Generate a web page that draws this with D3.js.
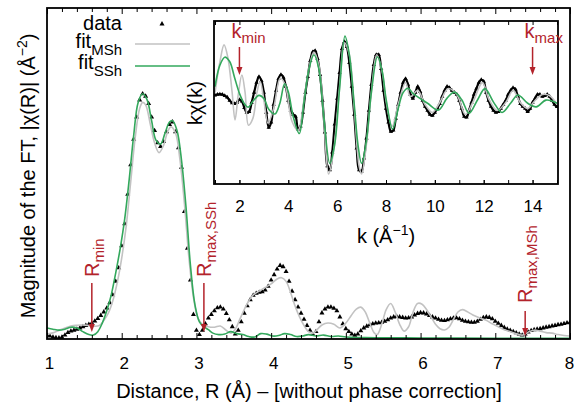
<!DOCTYPE html>
<html><head><meta charset="utf-8">
<script src="https://cdn.jsdelivr.net/npm/d3@7"></script>
<style>body{margin:0;background:#fff}svg{display:block}text{font-family:"Liberation Sans",Arial,Helvetica,sans-serif}</style>
</head><body><svg id="c" width="574" height="403"></svg>
<script>
// ---------- DATA ----------
// main panel: |chi(R)| data on a uniform R grid
const R0 = 1.0, dR = 0.04;
const dataFT = [
 0.016,0.012,0.008,0.005,0.004,0.007,0.016,0.026,0.032,0.036,
 0.040,0.045,0.050,0.055,0.060,0.065,0.073,0.083,0.096,0.110,
 0.126,0.148,0.180,0.235,0.290,0.380,0.470,0.590,0.710,0.815,
 0.905,0.975,1.000,0.990,0.960,0.905,0.850,0.800,0.785,0.805,
 0.845,0.875,0.885,0.845,0.780,0.700,0.520,0.370,0.240,0.100,
 0.035,0.018,0.035,0.062,0.085,0.100,0.115,0.127,0.130,0.122,
 0.104,0.078,0.050,0.020,0.035,0.070,0.105,0.135,0.160,0.178,
 0.186,0.190,0.193,0.200,0.215,0.240,0.262,0.285,0.300,0.295,
 0.275,0.235,0.195,0.160,0.130,0.105,0.080,0.055,0.035,0.018,
 0.030,0.070,0.106,0.122,0.130,0.130,0.125,0.115,0.090,0.062,
 0.042,0.030,0.020,0.015,0.020,0.033,0.045,0.052,0.058,0.062,
 0.065,0.066,0.068,0.072,0.078,0.085,0.090,0.092,0.090,0.088,
 0.085,0.086,0.090,0.098,0.104,0.107,0.106,0.102,0.096,0.090,
 0.085,0.080,0.076,0.075,0.078,0.082,0.085,0.086,0.082,0.076,
 0.072,0.070,0.068,0.068,0.072,0.080,0.087,0.090,0.088,0.082,
 0.072,0.064,0.055,0.047,0.040,0.035,0.030,0.025,0.020,0.016,
 0.020,0.028,0.034,0.038,0.040,0.042,0.045,0.048,0.050,0.053,
 0.055,0.058,0.060,0.063,0.066,0.068
];
const fitMShR = [1.00,1.08,1.16,1.24,1.32,1.40,1.48,1.56,1.64,1.70,1.76,1.82,1.88,1.94,2.00,2.06,2.12,2.18,2.24,2.28,2.32,2.38,2.44,2.50,2.56,2.62,2.66,2.72,2.78,2.84,2.90,2.96,3.02,3.08,3.16,3.24,3.32,3.40,3.46,3.52,3.58,3.64,3.70,3.76,3.84,3.92,4.00,4.08,4.14,4.20,4.26,4.32,4.38,4.44,4.50,4.56,4.62,4.68,4.76,4.84,4.92,5.00,5.07,5.14,5.20,5.26,5.32,5.38,5.42,5.48,5.54,5.60,5.66,5.72,5.78,5.84,5.90,5.96,6.02,6.08,6.14,6.20,6.26,6.32,6.38,6.44,6.50,6.56,6.62,6.70,6.80,6.88,6.96,7.04,7.12,7.20,7.30,7.37,7.44,7.52,7.60,7.68,7.76,7.84,7.92,8.00];
const fitMShV = [0.020,0.025,0.035,0.045,0.053,0.056,0.057,0.055,0.052,0.055,0.075,0.105,0.155,0.230,0.330,0.460,0.640,0.820,0.940,0.965,0.955,0.880,0.800,0.760,0.790,0.850,0.865,0.840,0.730,0.550,0.330,0.170,0.085,0.060,0.050,0.048,0.053,0.035,0.024,0.040,0.080,0.120,0.155,0.180,0.195,0.210,0.225,0.245,0.250,0.235,0.190,0.135,0.090,0.055,0.030,0.024,0.040,0.057,0.065,0.060,0.045,0.065,0.095,0.122,0.130,0.110,0.065,0.025,0.018,0.060,0.120,0.145,0.110,0.060,0.032,0.050,0.110,0.145,0.142,0.120,0.090,0.060,0.042,0.037,0.048,0.080,0.110,0.120,0.112,0.098,0.085,0.076,0.062,0.050,0.038,0.030,0.020,0.016,0.028,0.036,0.032,0.026,0.024,0.018,0.014,0.012];
const fitSShR = [1.00,1.08,1.16,1.24,1.32,1.40,1.48,1.56,1.62,1.68,1.74,1.80,1.86,1.92,1.98,2.04,2.10,2.16,2.22,2.28,2.34,2.40,2.46,2.52,2.58,2.64,2.68,2.74,2.80,2.86,2.92,2.98,3.04,3.10,3.16,3.22,3.30,3.38,3.46,3.54,3.62,3.70,3.78,3.86,3.94,4.02,4.10,4.18,4.26,4.34,4.42,4.50,4.60,4.70,4.80,4.90,5.00,5.20,5.40,5.70,6.00,6.50,7.00,7.50,8.00];
const fitSShV = [0.045,0.040,0.036,0.040,0.048,0.045,0.030,0.018,0.016,0.030,0.065,0.115,0.180,0.270,0.370,0.490,0.650,0.830,0.965,1.000,0.975,0.890,0.810,0.795,0.840,0.885,0.890,0.850,0.730,0.540,0.300,0.140,0.070,0.050,0.038,0.024,0.018,0.020,0.030,0.022,0.018,0.010,0.008,0.022,0.020,0.012,0.014,0.022,0.018,0.010,0.012,0.018,0.012,0.016,0.010,0.012,0.008,0.006,0.005,0.005,0.004,0.004,0.003,0.003,0.003];

// inset: k*chi(k)
const k0 = 1.0, dk = 0.1;
const dataK = [
 0.03,0.05,0.06,0.05,0.02,-0.02,-0.10,-0.16,-0.18,-0.15,
 -0.08,-0.12,-0.28,-0.40,-0.38,-0.15,0.10,0.35,0.50,0.40,
 0.10,-0.40,-0.78,-0.65,-0.20,0.15,0.45,0.55,0.48,0.25,
 -0.10,-0.35,-0.45,-0.50,-0.82,-0.75,-0.40,0.10,0.50,0.90,
 1.12,1.15,0.95,0.55,-0.10,-0.90,-1.75,-1.85,-1.40,-0.70,
 -0.05,0.60,1.20,1.38,1.25,0.85,0.25,-0.45,-1.30,-1.85,
 -1.88,-1.55,-1.05,-0.35,0.30,0.80,1.05,1.05,0.70,0.15,
 -0.30,-0.65,-0.88,-0.85,-0.55,-0.20,0.10,0.35,0.45,0.30,
 0.05,-0.05,0.10,0.25,0.12,-0.10,-0.25,-0.35,-0.45,-0.48,
 -0.40,-0.30,-0.18,0.00,0.15,0.25,0.22,0.15,0.10,0.05,
 -0.10,-0.30,-0.50,-0.52,-0.35,-0.15,0.05,0.20,0.35,0.42,
 0.38,0.10,-0.10,-0.25,-0.35,-0.40,-0.38,-0.30,-0.20,-0.10,
 0.05,0.15,0.22,0.18,0.00,-0.18,-0.25,-0.30,-0.38,-0.30,
 -0.15,-0.05,0.05,0.05,0.00,0.02,0.05,0.00,-0.10,-0.20,
 -0.26
];
const fitMShK = [1.0,1.2,1.37,1.53,1.7,1.82,1.95,2.1,2.23,2.37,2.55,2.72,2.85,3.0,3.17,3.4,3.67,3.87,4.15,4.4,4.65,4.85,5.05,5.25,5.45,5.65,5.85,6.1,6.3,6.5,6.7,6.9,7.0,7.2,7.4,7.62,7.85,8.0,8.25,8.5,8.8,9.0,9.3,9.6,9.9,10.2,10.55,10.9,11.25,11.55,11.95,12.2,12.55,12.9,13.2,13.5,13.8,14.1,14.4,14.7,15.0];
const fitMShKV = [0.10,0.87,1.30,0.97,0.11,-0.59,0.04,0.54,0.11,-0.72,-0.55,0.11,0.38,-0.09,-0.67,-0.30,0.46,0.30,-0.62,-0.85,-0.05,0.72,1.12,0.78,-0.50,-1.95,-1.40,0.25,1.35,1.05,-0.30,-1.75,-1.95,-1.20,0.10,1.05,0.60,-0.10,-0.75,-0.20,0.35,0.00,0.15,-0.20,-0.40,-0.15,0.20,0.05,-0.45,-0.15,0.35,-0.05,-0.35,-0.15,0.15,-0.15,-0.30,-0.10,0.05,0.02,-0.20];
const fitSShK = [1.0,1.2,1.4,1.6,1.8,2.0,2.2,2.35,2.55,2.8,3.0,3.2,3.45,3.65,3.85,4.0,4.2,4.45,4.65,4.85,5.05,5.25,5.45,5.7,5.9,6.1,6.32,6.5,6.7,6.85,7.0,7.2,7.4,7.65,7.85,8.0,8.27,8.5,8.7,8.9,9.1,9.3,9.7,10.15,10.5,10.8,11.1,11.4,11.75,12.05,12.4,12.75,13.1,13.4,13.8,14.15,14.55,15.0];
const fitSShKV = [0.25,0.79,0.99,0.88,0.48,0.08,-0.18,-0.27,-0.12,0.03,-0.05,-0.32,-0.44,-0.18,0.32,0.12,-0.50,-0.93,-0.10,0.70,1.05,0.70,-0.50,-1.68,-1.20,0.20,1.52,1.05,-0.20,-1.20,-1.68,-1.10,0.10,1.00,0.62,-0.05,-0.82,-0.30,0.10,0.21,0.08,-0.01,-0.17,-0.34,-0.04,0.11,-0.08,-0.42,-0.08,0.20,-0.14,-0.40,-0.17,0.04,-0.17,-0.26,-0.09,-0.17];

const xTickLabels = [1,2,3,4,5,6,7,8];
const kTickLabels = [2,4,6,8,10,12,14];
const rMarks = [{r:1.6, sub:"min"},{r:3.1, sub:"max,SSh"},{r:7.4, sub:"max,MSh"}];
const kMarks = [{k:2, sub:"min"},{k:14, sub:"max"}];

// ---------- DRAW ----------
const svg = d3.select("#c");
const RED = "#b3232b", GREEN = "#33a85c", GRAY = "#c2c2c2";
const F = {l:47, r:570, t:8, b:339};
const x = d3.scaleLinear().domain([1,8]).range([F.l,F.r]);
const y = d3.scaleLinear().domain([0,1.35]).range([F.b,F.t]);
const line = d3.line().curve(d3.curveCatmullRom.alpha(0.5));

svg.append("clipPath").attr("id","mc").append("rect")
  .attr("x",F.l).attr("y",F.t).attr("width",F.r-F.l).attr("height",F.b-F.t);
const gm = svg.append("g").attr("clip-path","url(#mc)");
const tri = d3.symbol(d3.symbolTriangle, 11)();
gm.selectAll("path.d").data(dataFT).join("path").attr("class","d")
  .attr("d",tri).attr("fill","#000")
  .attr("transform",(d,i)=>`translate(${x(R0+i*dR)},${y(d)})`);
gm.append("path").attr("d",line(fitMShR.map((r,i)=>[x(r),y(fitMShV[i])])))
  .attr("fill","none").attr("stroke",GRAY).attr("stroke-width",1.6);
gm.append("path").attr("d",line(fitSShR.map((r,i)=>[x(r),y(fitSShV[i])])))
  .attr("fill","none").attr("stroke",GREEN).attr("stroke-width",1.6);

// main ticks
const minorR = d3.range(0,36).map(i=>1+i*0.2).filter(v=>Math.abs(v-Math.round(v))>1e-6);
function styleAx(g){ g.select(".domain").remove(); g.selectAll("line").attr("stroke","#000").attr("stroke-width",1);
  g.attr("font-family",null).attr("font-size",null); g.selectAll("text").attr("font-size",17).attr("fill","#000"); }
svg.append("g").attr("transform",`translate(0,${F.b})`).call(d3.axisBottom(x).tickValues(minorR).tickSize(-4).tickFormat("")).call(styleAx);
svg.append("g").attr("transform",`translate(0,${F.b})`).call(d3.axisBottom(x).tickValues(xTickLabels).tickSize(-6).tickPadding(18).tickFormat(d3.format("d"))).call(styleAx)
  .selectAll("text").attr("dx",d=>d===8?-1:2);
svg.append("g").attr("transform",`translate(0,${F.t})`).call(d3.axisTop(x).tickValues(minorR).tickSize(-4).tickFormat("")).call(styleAx);
svg.append("g").attr("transform",`translate(0,${F.t})`).call(d3.axisTop(x).tickValues(xTickLabels).tickSize(-6).tickFormat("")).call(styleAx);
svg.append("rect").attr("x",F.l).attr("y",F.t).attr("width",F.r-F.l).attr("height",F.b-F.t)
  .attr("fill","none").attr("stroke","#000").attr("stroke-width",1.8);

// R markers
const rArrow = [[283,332],[283,332],[311,336]];
const rTextY = [277,277,303];
rMarks.forEach((m,i)=>{
  const ax = x(m.r);
  svg.append("line").attr("x1",ax).attr("x2",ax).attr("y1",rArrow[i][0]).attr("y2",rArrow[i][1]-6)
    .attr("stroke",RED).attr("stroke-width",1.5);
  svg.append("path").attr("d",`M${ax-3},${rArrow[i][1]-8}L${ax+3},${rArrow[i][1]-8}L${ax},${rArrow[i][1]}Z`).attr("fill",RED);
  const t = svg.append("text").attr("transform",`translate(${ax+7},${rTextY[i]}) rotate(-90)`)
    .attr("fill",RED).attr("font-size",20);
  t.append("tspan").text("R");
  t.append("tspan").attr("font-size",15).attr("dy",5).text(m.sub);
});

// axis labels
const yl = svg.append("text").attr("transform","translate(35,176) rotate(-90)")
  .attr("text-anchor","middle").attr("font-size",20).attr("fill","#000");
yl.append("tspan").text("Magnitude of the FT, |χ(R)| (Å");
yl.append("tspan").attr("font-size",14).attr("dy",-8).text("−2");
yl.append("tspan").attr("dy",8).text(")");
svg.append("text").attr("x",309).attr("y",398).attr("text-anchor","middle").attr("font-size",20)
  .text("Distance, R (Å) – [without phase correction]");

// legend
const lg = svg.append("g").attr("font-size",20).attr("fill","#000");
lg.append("text").attr("x",122).attr("y",30).attr("text-anchor","end").text("data");
lg.append("path").attr("d",tri).attr("transform","translate(162,24)").attr("fill","#000");
[["MSh",48,44,GRAY],["SSh",69,66,GREEN]].forEach(([s,by,ly,c])=>{
  const t = lg.append("text").attr("x",122).attr("y",by).attr("text-anchor","end");
  t.append("tspan").text("fit");
  t.append("tspan").attr("font-size",15).attr("dy",7).text(s);
  lg.append("line").attr("x1",135).attr("x2",190).attr("y1",ly).attr("y2",ly).attr("stroke",c).attr("stroke-width",1.6);
});

// ---------- INSET ----------
const I = {l:214, r:558, t:21, b:184};
const kx = d3.scaleLinear().domain([1,15]).range([215,557]);
const ky = d3.scaleLinear().domain([-2.2,1.9]).range([I.b,I.t]);
svg.append("rect").attr("x",I.l).attr("y",I.t).attr("width",I.r-I.l).attr("height",I.b-I.t).attr("fill","#fff");
svg.append("clipPath").attr("id","ic").append("rect")
  .attr("x",I.l).attr("y",I.t).attr("width",I.r-I.l).attr("height",I.b-I.t);
const gi = svg.append("g").attr("clip-path","url(#ic)");
const kpts = dataK.map((v,i)=>[kx(k0+i*dk),ky(v)]);
gi.append("path").attr("d",d3.line().curve(d3.curveCatmullRom)(kpts)).attr("fill","none").attr("stroke","#000").attr("stroke-width",2.2);
const triS = d3.symbol(d3.symbolTriangle, 8)();
gi.selectAll("path.kd").data(kpts).join("path").attr("class","kd").attr("d",triS).attr("fill","#000")
  .attr("transform",d=>`translate(${d[0]},${d[1]})`);
gi.append("path").attr("d",line(fitMShK.map((k,i)=>[kx(k),ky(fitMShKV[i])])))
  .attr("fill","none").attr("stroke",GRAY).attr("stroke-width",1.6);
gi.append("path").attr("d",line(fitSShK.map((k,i)=>[kx(k),ky(fitSShKV[i])])))
  .attr("fill","none").attr("stroke",GREEN).attr("stroke-width",1.6);

const kMinor = d3.range(1,16);
svg.append("g").attr("transform",`translate(0,${I.b})`).call(d3.axisBottom(kx).tickValues(kMinor).tickSize(-4).tickFormat("")).call(styleAx);
svg.append("g").attr("transform",`translate(0,${I.b})`).call(d3.axisBottom(kx).tickValues(kTickLabels).tickSize(-4).tickPadding(16).tickFormat(d3.format("d"))).call(styleAx);
svg.append("g").attr("transform",`translate(0,${I.t})`).call(d3.axisTop(kx).tickValues(kMinor).tickSize(-4).tickFormat("")).call(styleAx);
svg.append("rect").attr("x",I.l).attr("y",I.t).attr("width",I.r-I.l).attr("height",I.b-I.t)
  .attr("fill","none").attr("stroke","#000").attr("stroke-width",1.8);

kMarks.forEach(m=>{
  const ax = kx(m.k);
  svg.append("line").attr("x1",ax).attr("x2",ax).attr("y1",47).attr("y2",69).attr("stroke",RED).attr("stroke-width",1.5);
  svg.append("path").attr("d",`M${ax-3},${67}L${ax+3},${67}L${ax},${75}Z`).attr("fill",RED);
  const t = svg.append("text").attr("x",ax-8).attr("y",38).attr("fill",RED).attr("font-size",20);
  t.append("tspan").text("k");
  t.append("tspan").attr("font-size",15).attr("dy",5).text(m.sub);
});

const kl = svg.append("text").attr("transform","translate(202,103) rotate(-90)")
  .attr("text-anchor","middle").attr("font-size",20).text("kχ(k)");
const xl2 = svg.append("text").attr("x",386).attr("y",243).attr("text-anchor","middle").attr("font-size",20);
xl2.append("tspan").text("k (Å");
xl2.append("tspan").attr("font-size",14).attr("dy",-8).text("−1");
xl2.append("tspan").attr("dy",8).text(")");
</script></body></html>
